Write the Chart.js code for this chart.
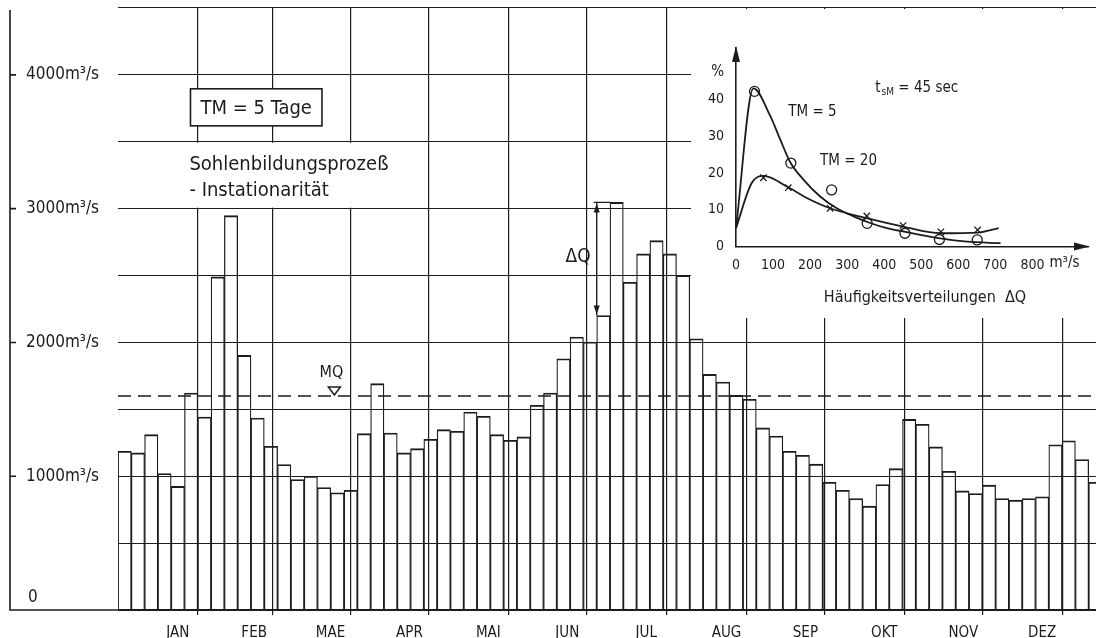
<!DOCTYPE html>
<html>
<head>
<meta charset="utf-8">
<script src="https://cdn.jsdelivr.net/npm/chart.js@4.4.0/dist/chart.umd.min.js"></script>
<style>
  html, body { margin: 0; padding: 0; background: #fff; overflow: hidden; }
  #wrap { position: relative; width: 1110px; height: 638px; }
  #main { position: absolute; left: 0; top: 0; }
  #inset { position: absolute; left: 691px; top: 9px; background: #fff; }
</style>
</head>
<body>
<div id="wrap">
  <canvas id="main" width="1110" height="638"></canvas>
  <canvas id="inset" width="405" height="309"></canvas>
</div>
<script>
// 5-day mean discharge in m³/s, one bar per pentad from January on
const pentads = Array.from({ length: 74 }, (_, i) => 'P' + (i + 1));
const discharge = [
  1187, 1174, 1311, 1020, 924, 1622, 1443, 2490, 2948, 1903,
  1435, 1224, 1087, 975, 1000, 915, 876, 895, 1318, 1692,
  1323, 1174, 1206, 1276, 1348, 1336, 1480, 1448, 1311, 1269,
  1294, 1530, 1622, 1878, 2040, 2003, 2201, 3047, 2450, 2662,
  2761, 2662, 2500, 2027, 1761, 1704, 1604, 1575, 1361, 1301,
  1187, 1157, 1090, 955, 895, 833, 776, 938, 1057, 1425,
  1388, 1219, 1037, 890, 871, 933, 833, 821, 833, 846,
  1235, 1265, 1125, 955
];
const MQ = 1600; // mean discharge

const months = ['JAN', 'FEB', 'MAE', 'APR', 'MAI', 'JUN', 'JUL', 'AUG', 'SEP', 'OKT', 'NOV', 'DEZ'];
const monthStart = [0, 31, 59, 90, 120, 151, 181, 212, 243, 273, 304, 334, 365];
const valueLabels = [1000, 2000, 3000, 4000];

// inset: frequency distributions of ΔQ (%)
const tm5CurveX = [0, 47, 92, 119, 146, 182, 227, 272, 317, 362, 407, 457, 551, 624, 714];
const tm5CurveY = [5, 43, 35.6, 29.2, 23, 18.2, 13.6, 10.4, 8.2, 6.4, 5.0, 4.0, 2.2, 1.3, 0.9];
const tm20CurveX = [0, 42, 74, 141, 191, 254, 353, 451, 553, 652, 709];
const tm20CurveY = [5, 17.2, 19.2, 16.1, 13.2, 10.4, 7.7, 5.4, 3.6, 3.8, 5.0];
const tm5PointX = [50, 148, 258, 354, 456, 549, 651];
const tm5PointY = [42.2, 22.7, 15.4, 6.3, 3.6, 1.9, 1.8];
const tm20PointX = [74, 141, 254, 353, 451, 553, 652];
const tm20PointY = [18.7, 16, 10.4, 8.3, 5.7, 4.0, 4.5];
const insetXTicks = [0, 100, 200, 300, 400, 500, 600, 700, 800];
const insetYTicks = [0, 10, 20, 30, 40];

const INK = '#1c1c1c';
const FAMILY = "'DejaVu Sans Condensed', 'DejaVu Sans', sans-serif";
const font = size => size + 'px ' + FAMILY;

const monthMid = months.map((m, i) => (monthStart[i] + monthStart[i + 1]) / 2);
const dayTicks = monthStart.concat(monthMid).sort((a, b) => a - b);
const zip = (xs, ys) => xs.map((x, i) => ({ x: x, y: ys[i] }));

function arrowHead(ctx, x, tipY, dir) {
  ctx.beginPath();
  ctx.moveTo(x, tipY);
  ctx.lineTo(x - 3, tipY - dir * 9);
  ctx.lineTo(x + 3, tipY - dir * 9);
  ctx.closePath();
  ctx.fill();
}

const mainDecor = {
  id: 'mainDecor',
  afterDatasetsDraw(chart) {
    const { ctx, chartArea: a } = chart;
    const X = d => chart.scales.xd.getPixelForValue(d);
    const Y = v => chart.scales.y.getPixelForValue(v);
    const bars = chart.getDatasetMeta(0).data;
    ctx.save();
    ctx.strokeStyle = INK;
    ctx.fillStyle = INK;

    // detached value axis on the far left
    const axisX = 10;
    ctx.lineWidth = 1.6;
    ctx.beginPath();
    ctx.moveTo(axisX, a.top + 2);
    ctx.lineTo(axisX, Y(0));
    ctx.lineTo(a.left, Y(0));
    valueLabels.forEach(v => { ctx.moveTo(axisX, Y(v)); ctx.lineTo(axisX + 6, Y(v)); });
    ctx.stroke();
    ctx.font = font(17);
    ctx.textAlign = 'left';
    ctx.textBaseline = 'middle';
    ctx.fillText('0', 28, Y(0) - 12);

    // mean discharge
    ctx.lineWidth = 1.6;
    ctx.setLineDash([13, 7]);
    ctx.beginPath();
    ctx.moveTo(a.left, Y(MQ));
    ctx.lineTo(a.right, Y(MQ));
    ctx.stroke();
    ctx.setLineDash([]);
    const mx = X(76);
    ctx.lineWidth = 1.5;
    ctx.beginPath();
    ctx.moveTo(mx - 6, Y(MQ) - 9);
    ctx.lineTo(mx + 6, Y(MQ) - 9);
    ctx.lineTo(mx, Y(MQ) - 1);
    ctx.closePath();
    ctx.fillStyle = '#fff';
    ctx.fill();
    ctx.stroke();
    ctx.fillStyle = INK;
    ctx.font = font(16);
    ctx.textAlign = 'center';
    ctx.fillText('MQ', mx - 3, Y(MQ) - 23);

    // ΔQ between pentads 37 and 38
    const b1 = bars[36], b2 = bars[37];
    const dx = b1.x - b1.width / 2;
    ctx.lineWidth = 1.4;
    ctx.beginPath();
    ctx.moveTo(dx, b2.y);
    ctx.lineTo(dx, b1.y);
    ctx.moveTo(dx - 3, b2.y);
    ctx.lineTo(b2.x - b2.width / 2, b2.y);
    ctx.stroke();
    arrowHead(ctx, dx, b2.y + 1, -1);
    arrowHead(ctx, dx, b1.y - 1, 1);
    ctx.font = font(19);
    ctx.textAlign = 'right';
    ctx.fillText('ΔQ', dx - 6, Y(2640));

    // TM box
    const bx0 = X(20.4), bx1 = X(71.2), by0 = Y(3896), by1 = Y(3619);
    ctx.fillStyle = '#fff';
    ctx.fillRect(bx0, by0, bx1 - bx0, by1 - by0);
    ctx.lineWidth = 1.6;
    ctx.strokeRect(bx0, by0, bx1 - bx0, by1 - by0);
    ctx.fillStyle = INK;
    ctx.font = font(20);
    ctx.textAlign = 'center';
    ctx.fillText('TM = 5 Tage', (bx0 + bx1) / 2, (by0 + by1) / 2 + 1);

    // process note on a blank panel
    ctx.fillStyle = '#fff';
    ctx.fillRect(a.left + 1, Y(3500) + 1, X(100) - a.left - 1, Y(3000) - Y(3500) - 2);
    ctx.fillStyle = INK;
    ctx.textAlign = 'left';
    ctx.fillText('Sohlenbildungsprozeß', X(20), Y(3330));
    ctx.fillText('- Instationarität', X(20), Y(3130));
    ctx.restore();
  }
};

new Chart(document.getElementById('main'), {
  type: 'bar',
  data: {
    labels: pentads,
    datasets: [{
      data: discharge,
      xAxisID: 'x',
      yAxisID: 'y',
      backgroundColor: 'rgba(0,0,0,0)',
      borderColor: INK,
      borderWidth: { top: 1.2, left: 0.6, right: 0.6, bottom: 0 },
      barPercentage: 1,
      categoryPercentage: 1
    }]
  },
  options: {
    responsive: false,
    animation: false,
    events: [],
    layout: { padding: { left: 26, right: 8, top: 8, bottom: 0 } },
    plugins: { legend: { display: false }, tooltip: { enabled: false } },
    scales: {
      x: { type: 'category', display: false, offset: true },
      xd: {
        type: 'linear',
        position: 'bottom',
        min: 0,
        max: 365,
        afterBuildTicks: s => { s.ticks = dayTicks.map(v => ({ value: v })); },
        afterFit: s => { s.height = 28; s.paddingLeft = 0; s.paddingRight = 0; },
        grid: {
          color: c => (c.tick && monthStart.includes(c.tick.value)) ? INK : 'rgba(0,0,0,0)',
          lineWidth: 1.2,
          tickLength: 5
        },
        border: { display: false },
        ticks: {
          autoSkip: false,
          maxRotation: 0,
          minRotation: 0,
          padding: 9,
          color: INK,
          font: { family: FAMILY, size: 15 },
          callback: v => { const i = monthMid.indexOf(v); return i >= 0 ? months[i] : ''; }
        }
      },
      y: {
        position: 'left',
        min: 0,
        max: 4500,
        afterFit: s => { s.width = 92; s.paddingTop = 0; s.paddingBottom = 0; },
        grid: {
          color: INK,
          lineWidth: c => (c.tick && c.tick.value === 0) ? 2 : 1.1,
          drawTicks: false
        },
        border: { display: false },
        ticks: {
          stepSize: 500,
          crossAlign: 'far',
          color: INK,
          font: { family: FAMILY, size: 17 },
          callback: v => valueLabels.includes(v) ? v + 'm³/s' : ''
        }
      }
    }
  },
  plugins: [mainDecor]
});

const insetDecor = {
  id: 'insetDecor',
  afterDraw(chart) {
    const { ctx, chartArea: a } = chart;
    const X = v => chart.scales.x.getPixelForValue(v);
    const Y = v => chart.scales.y.getPixelForValue(v);
    ctx.save();
    ctx.fillStyle = INK;
    // axis arrows
    ctx.beginPath();
    ctx.moveTo(a.right + 2, a.bottom);
    ctx.lineTo(a.right - 14, a.bottom - 4);
    ctx.lineTo(a.right - 14, a.bottom + 4);
    ctx.closePath();
    ctx.fill();
    ctx.beginPath();
    ctx.moveTo(a.left, a.top - 2);
    ctx.lineTo(a.left - 4, a.top + 14);
    ctx.lineTo(a.left + 4, a.top + 14);
    ctx.closePath();
    ctx.fill();

    ctx.textBaseline = 'middle';
    ctx.font = font(15);
    ctx.textAlign = 'right';
    ctx.fillText('%', a.left - 12, Y(47.5));
    ctx.textAlign = 'left';
    ctx.textBaseline = 'top';
    ctx.font = font(15);
    ctx.fillText('m³/s', X(800) + 17, a.bottom + 9);

    ctx.textBaseline = 'middle';
    ctx.font = font(15);
    ctx.fillText('TM = 5', X(141), Y(36.6));
    ctx.fillText('TM = 20', X(227), Y(23.3));
    let tx = X(376);
    const ty = Y(43.2);
    ctx.fillText('t', tx, ty);
    tx += ctx.measureText('t').width + 1;
    ctx.font = font(10);
    ctx.fillText('sM', tx, ty + 5);
    tx += ctx.measureText('sM').width;
    ctx.font = font(15);
    ctx.fillText(' = 45 sec', tx, ty);

    ctx.textAlign = 'center';
    ctx.font = font(16);
    ctx.fillText('Häufigkeitsverteilungen  ΔQ', X(510), a.bottom + 51);
    ctx.restore();
  }
};

new Chart(document.getElementById('inset'), {
  type: 'line',
  data: {
    datasets: [
      { data: zip(tm5CurveX, tm5CurveY), borderColor: INK, borderWidth: 1.8, pointRadius: 0, cubicInterpolationMode: 'monotone', fill: false },
      { data: zip(tm20CurveX, tm20CurveY), borderColor: INK, borderWidth: 1.8, pointRadius: 0, cubicInterpolationMode: 'monotone', fill: false },
      { data: zip(tm5PointX, tm5PointY), showLine: false, pointStyle: 'circle', pointRadius: 5, pointBorderWidth: 1.3, pointBackgroundColor: '#fff', pointBorderColor: INK },
      { data: zip(tm20PointX, tm20PointY), showLine: false, pointStyle: 'crossRot', pointRadius: 4.5, pointBorderWidth: 1.3, pointBorderColor: INK }
    ]
  },
  options: {
    responsive: false,
    animation: false,
    events: [],
    layout: { padding: { left: 0, right: 8, top: 39, bottom: 0 } },
    plugins: { legend: { display: false }, tooltip: { enabled: false } },
    scales: {
      x: {
        type: 'linear',
        min: 0,
        max: 950,
        afterBuildTicks: s => { s.ticks = insetXTicks.map(v => ({ value: v })); },
        afterFit: s => { s.height = 71.5; },
        grid: { display: false, drawTicks: false },
        border: { color: INK, width: 1.6 },
        ticks: { autoSkip: false, maxRotation: 0, padding: 10, color: INK, font: { family: FAMILY, size: 14 } }
      },
      y: {
        min: 0,
        max: 54,
        afterBuildTicks: s => { s.ticks = insetYTicks.map(v => ({ value: v })); },
        afterFit: s => { s.width = 45; },
        grid: { display: false, drawTicks: false },
        border: { color: INK, width: 1.6 },
        ticks: { padding: 12, color: INK, font: { family: FAMILY, size: 14 } }
      }
    }
  },
  plugins: [insetDecor]
});
</script>
</body>
</html>
